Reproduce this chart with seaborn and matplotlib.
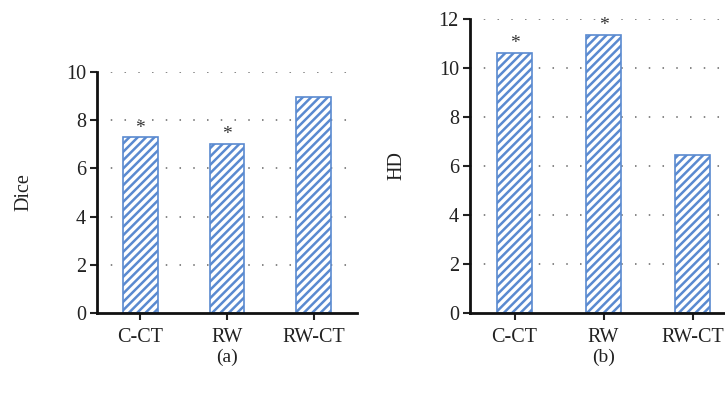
import numpy as np
import pandas as pd
import seaborn as sns
import matplotlib
matplotlib.use('Agg')
import matplotlib.pyplot as plt

# Data
methods = ['C-CT', 'RW', 'RW-CT']
dice_vals = [7.30, 7.02, 8.95]
hd_vals = [10.63, 11.36, 6.44]
dice_sig = [True, True, False]
hd_sig = [True, True, False]

sns.set_style('white')
plt.rcParams['font.family'] = ['Liberation Serif', 'DejaVu Serif']
plt.rcParams['hatch.linewidth'] = 1.8
plt.rcParams['hatch.color'] = '#5a8ad0'

blue = '#5a8ad0'


def draw_panel(ax, vals, sig, ylabel, ymax, tag, tag_y):
    '''Hatched bar panel with dotted grid and significance stars'''
    df = pd.DataFrame({'method': methods, 'value': vals})
    for y in range(2, ymax + 1, 2):
        ax.axhline(y, color='#666666', linestyle=(0, (1, 8)), linewidth=1.1, zorder=0)
    sns.barplot(data=df, x='method', y='value', ax=ax, width=0.4, color='white',
                saturation=1, edgecolor=blue, linewidth=1.2, zorder=2)
    for p in ax.patches:
        p.set_hatch('////')
        p.set_zorder(2)
    for i, (v, s) in enumerate(zip(vals, sig)):
        if s:
            ax.text(i, v + 0.02, '*', ha='center', va='bottom', fontsize=14, color='#333333')
    ax.set_xlim(-0.5, 2.5)
    ax.set_ylim(0, ymax)
    ax.set_yticks(range(0, ymax + 1, 2))
    ax.set_xlabel('')
    ax.set_ylabel(ylabel, fontsize=14.5, labelpad=23, color='#222222')
    ax.tick_params(axis='both', labelsize=14.5, length=5, width=1.5, color='#222222',
                   labelcolor='#222222', direction='out', left=True, bottom=True, pad=3)
    ax.tick_params(axis='x', pad=6)
    for side in ['top', 'right']:
        ax.spines[side].set_visible(False)
    for side in ['left', 'bottom']:
        ax.spines[side].set_linewidth(2)
        ax.spines[side].set_color('#111111')
    ax.text(0.5, tag_y, tag, transform=ax.transAxes, ha='center',
            va='center', fontsize=14, color='#222222')


fig = plt.figure(figsize=(7.25, 3.93), dpi=100)
ax1 = fig.add_axes([0.1338, 0.2036, 0.3586, 0.6132])
ax2 = fig.add_axes([0.6483, 0.2036, 0.3683, 0.7481])

draw_panel(ax1, dice_vals, dice_sig, 'Dice', 10, '(a)', -44 / 241)
draw_panel(ax2, hd_vals, hd_sig, 'HD', 12, '(b)', -44 / 294)

fig.savefig('out.png', dpi=100)
plt.close()
